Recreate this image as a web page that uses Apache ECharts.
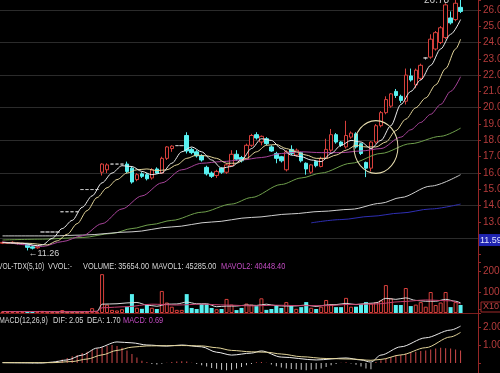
<!DOCTYPE html>
<html>
<head>
<meta charset="utf-8">
<script src="https://cdn.jsdelivr.net/npm/echarts@6.0.0/dist/echarts.min.js"></script>
<style>
html,body{margin:0;padding:0;background:#000;overflow:hidden;}
#chart{width:500px;height:373px;}
</style>
</head>
<body>
<div id="chart"></div>
<script>
// ---------------- data ----------------
const slotCount = 96; // 93 trading days + 3 empty slots before the price axis
const opens = [11.70,11.70,11.72,11.68,11.64,11.66,11.48,11.42,
 12.39,12.39,12.39,12.39,13.63,13.63,13.63,13.63,14.99,14.99,14.99,14.99,
 16.05,16.20,16.55,16.55,16.55,16.55,16.30,15.60,15.95,15.90,
 15.70,16.25,16.00,16.90,17.50,17.68,17.68,18.30,17.45,17.30,
 17.05,16.35,16.00,15.85,16.30,16.05,16.45,17.15,16.95,16.85,
 17.70,18.35,17.90,18.10,17.60,17.20,17.00,16.20,17.45,17.10,
 17.25,16.60,16.05,16.70,16.40,16.90,17.40,18.35,17.90,17.60,
 18.20,18.40,17.80,16.65,16.30,17.90,18.90,19.70,20.10,21.00,
 20.70,20.40,21.95,21.40,21.80,23.05,23.10,23.60,24.00,24.30,
 25.50,25.40,26.15];
const closes = [11.75,11.74,11.76,11.72,11.68,11.45,11.40,11.48,
 12.39,12.39,12.39,12.39,13.63,13.63,13.63,13.63,14.99,14.99,14.99,14.99,
 16.55,16.50,16.55,16.55,16.55,16.10,15.45,15.90,15.80,15.65,
 16.20,16.00,16.90,17.60,17.65,17.68,17.68,17.35,17.25,17.05,
 16.80,15.95,15.80,16.10,16.05,16.50,17.15,16.85,16.75,17.70,
 18.30,18.15,18.25,17.80,17.35,16.90,16.75,17.30,17.20,17.40,
 16.75,16.25,16.50,16.45,16.90,17.45,18.35,17.90,17.70,18.30,
 18.45,17.60,17.20,16.30,17.90,18.90,19.70,20.50,20.85,20.75,
 20.45,22.00,21.70,22.30,22.60,23.05,24.20,24.60,24.90,26.30,
 25.20,26.40,25.90];
const lows = [11.65,11.66,11.68,11.62,11.60,11.26,11.32,11.36,
 12.39,12.39,12.39,12.39,13.63,13.63,13.63,13.63,14.99,14.99,14.99,14.99,
 15.85,16.00,16.55,16.55,16.55,16.00,15.35,15.50,15.70,15.55,
 15.60,15.95,15.95,16.80,17.30,17.68,17.68,17.20,17.15,16.95,
 16.70,15.85,15.70,15.70,15.95,15.95,16.40,16.75,16.65,16.80,
 17.60,18.05,17.70,17.70,17.30,16.60,16.65,16.10,17.10,17.00,
 16.65,15.90,15.95,16.35,16.35,16.85,17.30,17.80,17.60,17.50,
 18.10,17.50,17.10,15.75,16.10,17.80,18.80,19.60,20.00,20.60,
 20.30,20.20,21.60,21.20,21.70,22.95,23.00,23.50,23.90,24.20,
 25.10,25.30,25.80];
const highs = [11.80,11.78,11.82,11.76,11.72,11.68,11.52,11.55,
 12.39,12.39,12.39,12.39,13.63,13.63,13.63,13.63,14.99,14.99,14.99,14.99,
 16.60,16.60,16.55,16.55,16.55,16.70,16.40,16.00,16.05,16.00,
 16.30,16.35,17.00,17.65,17.70,17.68,17.68,18.50,17.55,17.40,
 17.15,16.45,16.10,16.20,16.35,16.60,17.40,17.40,17.05,17.80,
 18.40,18.50,18.30,18.20,17.70,17.30,17.05,17.40,17.70,17.50,
 17.30,16.65,16.55,16.75,17.00,18.10,18.70,18.45,17.95,19.20,
 18.55,18.50,17.85,16.70,17.95,19.00,19.80,20.70,20.90,21.15,
 20.80,22.40,22.40,22.40,22.70,23.10,24.50,24.70,25.00,26.40,
 25.90,26.60,26.78];
const volumes = [70,60,80,60,70,90,80,60,
 100,25,25,25,140,25,25,25,25,25,230,25,
 1850,400,150,120,180,300,900,250,200,380,
 250,190,1050,500,300,150,150,900,240,190,
 430,430,240,180,190,670,400,140,240,450,
 400,330,700,150,190,380,240,520,330,200,
 280,520,250,190,300,620,420,280,280,720,
 300,300,430,520,450,520,600,1330,700,380,
 380,1190,330,400,520,300,1000,380,500,1000,
 280,520,380];
// moving averages: [day index, value]
const ma5 = [[0,11.74],[4,11.7],[7,11.55],[8,11.6],[10,12.0],[12,12.6],[14,13.1],[16,13.9],[18,14.6],[20,15.4],[22,16.0],[24,16.45],[26,16.4],[28,16.1],[30,15.9],[32,16.0],[34,16.6],[36,17.3],[38,17.6],[40,17.3],[42,16.8],[44,16.3],[46,16.4],[48,16.8],[50,17.5],[52,18.1],[54,18.0],[56,17.5],[58,17.1],[60,17.0],[62,16.8],[64,16.7],[66,17.2],[68,17.7],[70,18.0],[72,17.9],[74,17.5],[76,18.0],[78,18.9],[80,20.2],[82,21.0],[84,21.7],[86,22.6],[88,23.6],[90,24.5],[92,25.4]];
const ma10 = [[0,11.75],[5,11.7],[9,11.6],[11,11.85],[13,12.25],[15,12.9],[17,13.7],[19,14.5],[21,15.1],[23,15.6],[25,16.0],[27,16.2],[29,16.25],[31,16.15],[33,16.2],[35,16.5],[37,16.9],[39,17.1],[41,17.05],[43,16.9],[45,16.6],[47,16.6],[49,16.9],[51,17.3],[53,17.7],[55,17.75],[57,17.5],[59,17.3],[61,17.1],[63,16.9],[65,16.9],[67,17.1],[69,17.4],[71,17.7],[73,17.6],[75,17.6],[77,17.9],[79,18.6],[81,19.3],[83,20.0],[85,20.6],[87,21.4],[89,22.4],[91,23.6],[92,24.2]];
const ma20 = [[0,11.8],[5,11.6],[8,11.5],[12,11.8],[16,12.15],[20,12.9],[24,13.8],[28,14.6],[32,15.4],[36,16.2],[40,16.6],[44,16.7],[48,16.8],[52,16.95],[56,17.2],[60,17.3],[64,17.25],[68,17.25],[72,17.35],[76,17.5],[80,18.2],[82,18.65],[84,19.1],[86,19.6],[88,20.2],[90,21.0],[92,21.9]];
const ma60 = [[0,11.9],[8,11.95],[16,12.05],[22,12.3],[26,12.6],[30,12.85],[34,13.1],[40,13.6],[46,14.1],[50,14.5],[56,15.3],[60,15.7],[64,16.0],[70,16.6],[76,17.2],[82,17.8],[88,18.25],[92,18.75]];
const ma120 = [[0,12.15],[10,12.15],[16,12.2],[26,12.4],[34,12.7],[42,13.0],[50,13.28],[58,13.5],[64,13.65],[70,13.78],[76,14.15],[80,14.5],[86,15.2],[92,15.9]];
const ma250 = [[62,12.95],[68,13.15],[74,13.35],[80,13.55],[86,13.8],[92,14.1]];
const mavol1 = [[0,70],[8,70],[12,60],[16,60],[19,80],[20,420],[23,440],[25,480],[27,500],[29,380],[31,320],[33,420],[35,430],[37,520],[39,440],[41,440],[43,300],[45,330],[47,330],[49,380],[51,360],[53,420],[55,350],[57,330],[59,340],[61,380],[63,310],[65,380],[67,400],[69,460],[71,400],[73,450],[75,480],[77,700],[79,650],[81,720],[83,600],[85,560],[87,560],[89,650],[91,560],[92,480]];
const mavol2 = [[0,70],[10,70],[19,70],[20,250],[25,300],[30,420],[35,380],[40,420],[45,380],[50,340],[55,370],[60,350],[65,350],[70,410],[75,430],[80,540],[85,620],[90,580],[92,430]];
const macdHist = [0,0,0,0,0,0,-0.01,-0.01,0.02,0.04,
 0.06,0.12,0.2,0.28,0.38,0.45,0.55,0.62,0.72,0.8,
 0.88,0.95,1.0,0.95,0.85,0.7,0.5,0.3,0.12,0.05,
 -0.05,-0.08,-0.04,0.02,0.06,0.08,0.1,0.08,0.02,-0.05,
 -0.12,-0.2,-0.28,-0.32,-0.38,-0.4,-0.38,-0.3,-0.22,-0.12,
 -0.05,0.04,0.06,0.02,-0.08,-0.18,-0.25,-0.3,-0.33,-0.35,
 -0.38,-0.4,-0.38,-0.35,-0.3,-0.22,-0.12,-0.05,0.02,0.04,
 -0.03,-0.1,-0.2,-0.3,-0.35,0.05,0.15,0.25,0.33,0.4,
 0.45,0.52,0.58,0.62,0.66,0.7,0.75,0.8,0.85,0.82,
 0.8,0.75,0.69];
const dif = [[0,0.02],[8,0.0],[10,0.05],[13,0.17],[16,0.44],[19,0.83],[23,1.17],[26,1.12],[29,1.0],[33,0.94],[36,1.0],[40,0.9],[43,0.6],[46,0.44],[50,0.55],[52,0.67],[56,0.33],[63,0.17],[69,0.28],[72,0.17],[74,0.05],[76,0.44],[80,0.9],[85,1.4],[90,1.83],[92,2.05]];
const dea = [[0,0.02],[10,0.02],[14,0.08],[17,0.22],[20,0.45],[23,0.7],[26,0.88],[29,0.95],[33,0.96],[36,0.97],[40,0.95],[43,0.85],[46,0.7],[50,0.62],[53,0.6],[56,0.5],[60,0.35],[65,0.25],[70,0.22],[74,0.15],[76,0.2],[80,0.45],[85,0.85],[90,1.45],[92,1.70]];
const lastPriceTag = 11.59;
const volHeader = [['VOL-TDX(5,10)',-2,'#d6d6d6',0.74],['VVOL:-',48,'#d6d6d6',0.82],['VOLUME: 35654.00',83,'#d6d6d6',0.82],['MAVOL1: 45285.00',152,'#d6d6d6',0.82],['MAVOL2: 40448.40',221,'#c24cc2',0.82]];
const macdHeader = [['MACD(12,26,9)',-1,'#d6d6d6',0.78],['DIF: 2.05',53,'#d6d6d6',0.82],['DEA: 1.70',87,'#d6d6d6',0.82],['MACD: 0.69',123,'#c24cc2',0.82]];

// ---------------- chart ----------------
const categories = Array.from({length: slotCount}, (_, i) => 'D' + (i + 1));
const UP = '#d8403c', DOWN = '#58f0f0', FLAT = '#bdbdbd';
const candleData = opens.map((o, i) => {
  const item = {value: [o, closes[i], lows[i], highs[i]]};
  if (o === closes[i]) item.itemStyle = {color: FLAT, color0: FLAT, borderColor: FLAT, borderColor0: FLAT};
  return item;
});
const volData = volumes.map((v, i) => ({
  value: v,
  itemStyle: closes[i] >= opens[i]
    ? {color: '#000', borderColor: UP, borderWidth: 1}
    : {color: DOWN, borderColor: DOWN, borderWidth: 0}
}));
const histData = macdHist.map(v => ({value: v, itemStyle: {color: v >= 0 ? '#cf4a4a' : '#c8c8c8'}}));

const axisLbl = {color: '#b63c3c', fontSize: 10, fontFamily: 'Liberation Sans', margin: 5};
const axisLn = {show: true, lineStyle: {color: '#952626', width: 1}};
const axisTk = {show: true, length: 3, lineStyle: {color: '#952626'}};
const line = (data, color, xi, yi, w) => ({
  type: 'line', xAxisIndex: xi, yAxisIndex: yi, data, showSymbol: false, symbol: 'none',
  smooth: 0.3, smoothMonotone: 'x', silent: true, lineStyle: {color, width: w || 1}
});

const chart = echarts.init(document.getElementById('chart'), null, {renderer: 'canvas', width: 500, height: 373});
chart.setOption({
  animation: false,
  backgroundColor: '#000',
  grid: [
    {left: 0, right: 22, top: 0, height: 271, outerBoundsMode: 'none', containLabel: false},
    {left: 0, right: 22, top: 262.6, height: 50.4, outerBoundsMode: 'none', containLabel: false},
    {left: 0, right: 22, top: 309, height: 72, outerBoundsMode: 'none', containLabel: false}
  ],
  xAxis: [0, 1, 2].map(g => ({
    type: 'category', gridIndex: g, data: categories, boundaryGap: true,
    axisLine: {show: g === 1, lineStyle: {color: '#7a1d1d'}},
    axisTick: {show: false}, axisLabel: {show: false}, splitLine: {show: false}
  })),
  yAxis: [
    {gridIndex: 0, position: 'right', min: 10, max: 26.6, interval: 1, axisLine: axisLn, axisTick: axisTk,
     axisLabel: Object.assign({}, axisLbl, {formatter: v => (v >= 13 && v <= 26) ? v.toFixed(2) : ''}), splitLine: {show: false}},
    {gridIndex: 0, position: 'right', min: 10, max: 26.6, interval: 2, axisLine: {show: false}, axisTick: {show: false},
     axisLabel: {show: false}, splitLine: {show: true, showMinLine: false, showMaxLine: false, lineStyle: {color: '#2b2b2b', width: 1}}},
    {gridIndex: 1, position: 'right', min: 0, max: 2400, interval: 1000, axisLine: axisLn, axisTick: axisTk,
     axisLabel: Object.assign({}, axisLbl, {formatter: v => (v === 1000 || v === 2000) ? String(v) : ''}), splitLine: {show: false}},
    {gridIndex: 2, position: 'right', min: -1, max: 3, interval: 1, axisLine: axisLn, axisTick: axisTk,
     axisLabel: Object.assign({}, axisLbl, {formatter: v => (v === 1 || v === 2) ? v.toFixed(2) : ''}), splitLine: {show: false}}
  ],
  series: [
    line(ma60, '#6f9f4c', 0, 0),
    line(ma120, '#cfcfcf', 0, 0),
    line(ma250, '#2f2fb4', 0, 0),
    line(ma20, '#a8449a', 0, 0),
    line(ma10, '#e2d49a', 0, 0),
    line(ma5, '#ececec', 0, 0),
    {type: 'candlestick', xAxisIndex: 0, yAxisIndex: 0, data: candleData, barWidth: 4, clip: true, silent: true,
     itemStyle: {color: '#000', color0: DOWN, borderColor: UP, borderColor0: DOWN, borderWidth: 1}},
    {type: 'bar', xAxisIndex: 1, yAxisIndex: 2, data: volData, barWidth: 4, silent: true},
    line(mavol1, '#dcdcdc', 1, 2),
    line(mavol2, '#c4406e', 1, 2),
    {type: 'bar', xAxisIndex: 2, yAxisIndex: 3, data: histData, barWidth: 1, silent: true},
    line(dif, '#ececec', 2, 3),
    line(dea, '#e2d49a', 2, 3)
  ]
});

// annotations positioned through the chart's own scales
const P = (xi, yi, pt) => chart.convertToPixel({xAxisIndex: xi, yAxisIndex: yi}, pt);
const g = [];
const hdrFont = '9px Liberation Sans';
volHeader.forEach(([t, x, c, s]) => g.push({type: 'text', x, y: 267, scaleX: s, silent: true,
  style: {text: t, fill: c, font: hdrFont, textVerticalAlign: 'middle'}}));
macdHeader.forEach(([t, x, c, s]) => g.push({type: 'text', x, y: 321, scaleX: s, silent: true,
  style: {text: t, fill: c, font: hdrFont, textVerticalAlign: 'middle'}}));

const maxHigh = Math.max(...highs), maxIdx = highs.indexOf(maxHigh);
const pm = P(0, 0, [maxIdx, maxHigh]);
g.push({type: 'text', x: pm[0] - 24, y: 0, silent: true,
  style: {text: maxHigh.toFixed(2), fill: '#cfcfcf', font: '10px Liberation Sans', textAlign: 'center', textVerticalAlign: 'middle'}});
const minLow = Math.min(...lows), minIdx = lows.indexOf(minLow);
const pl = P(0, 0, [minIdx, minLow]);
g.push({type: 'text', x: pl[0] + 1, y: pl[1] + 3, silent: true,
  style: {text: '\u2190' + minLow.toFixed(2), fill: '#d0d0d0', font: '9px Liberation Sans', textVerticalAlign: 'middle'}});

const pc = P(0, 0, [75, 17.6]);
g.push({type: 'circle', x: pc[0], y: pc[1], scaleY: 1.2, silent: true, z: 100,
  shape: {cx: 0, cy: 0, r: 22}, style: {fill: 'none', stroke: '#e6dcae', lineWidth: 1}});

const pt = P(0, 0, [0, lastPriceTag]);
g.push({type: 'text', x: 479, y: pt[1] - 5, silent: true, z: 100,
  style: {text: lastPriceTag.toFixed(2), fill: '#e0e4ff', font: '9px Liberation Sans', textVerticalAlign: 'middle',
          backgroundColor: '#1f24b0', padding: [2, 1, 1, 1]}});

const pv = P(1, 2, [0, 0]);
g.push({type: 'text', x: 481, y: pv[1] - 6, silent: true, z: 100,
  style: {text: 'X10', fill: '#c04444', font: '9px Liberation Sans', textVerticalAlign: 'middle',
          borderColor: '#a02a2a', borderWidth: 1, padding: [1, 2, 0, 2]}});

chart.setOption({graphic: g});
</script>
</body>
</html>
